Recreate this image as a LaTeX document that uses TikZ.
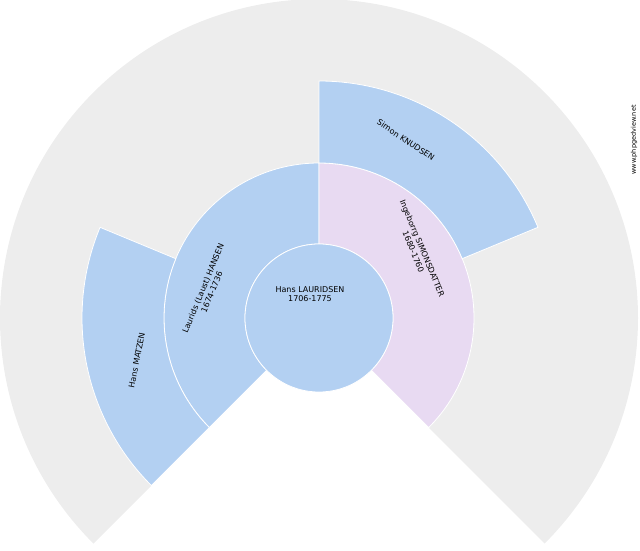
\documentclass[tikz,border=0pt]{standalone}
\usepackage{fontspec}
\setmainfont{DejaVu Sans}
\usetikzlibrary{calc}
\begin{document}
\begin{tikzpicture}[x=1pt,y=1pt,
  blue/.style={fill={rgb,255:red,179;green,208;blue,242},draw=white,line width=0.8pt},
  pink/.style={fill={rgb,255:red,232;green,218;blue,242},draw=white,line width=0.8pt},
  grey/.style={fill={rgb,255:red,237;green,237;blue,237},draw=none},
  lbl/.style={font=\fontsize{8}{9.5}\selectfont,align=center,inner sep=0pt}]
\useasboundingbox (0,0) rectangle (640,550);
\coordinate (C) at (319,232);
\newcommand{\sector}[5]{\fill[#1] ($(C)+(#2:#4)$) arc[start angle=#2,end angle=#3,radius=#4] -- ($(C)+(#3:#5)$) arc[start angle=#3,end angle=#2,radius=#5] -- cycle;}
\fill[grey] (C) -- ($(C)+(225:319)$) arc[start angle=225,end angle=-45,radius=319] -- cycle;
\sector{blue}{225}{90}{74}{155}
\sector{pink}{90}{-45}{74}{155}
\sector{blue}{225}{157.5}{155}{237}
\sector{blue}{90}{22.5}{155}{237}
\fill[blue] (C) circle (74);
\node[lbl] (p1) at (310,256) {Hans LAURIDSEN\\1706-1775\hspace{1.5em}};
\node[lbl,rotate=67.5] (p2) at ($(C)+(166:115)$) {Laurids (Laust) HANSEN\\1674-1736};
\node[lbl,rotate=-67.5] (p3) at ($(C)+(34.5:120)$) {Ingeborrg SIMONSDATTER\\1680-1760};
\node[lbl,rotate=78.75] (p4) at ($(C)+(193:187)$) {Hans MATZEN};
\node[lbl,rotate=-33.75] (p5) at ($(C)+(64:198)$) {Simon KNUDSEN};
\node[lbl,rotate=90,font=\fontsize{6.5}{7}\selectfont] (w) at (634,410) {www.phpgedview.net};
\end{tikzpicture}
\end{document}
